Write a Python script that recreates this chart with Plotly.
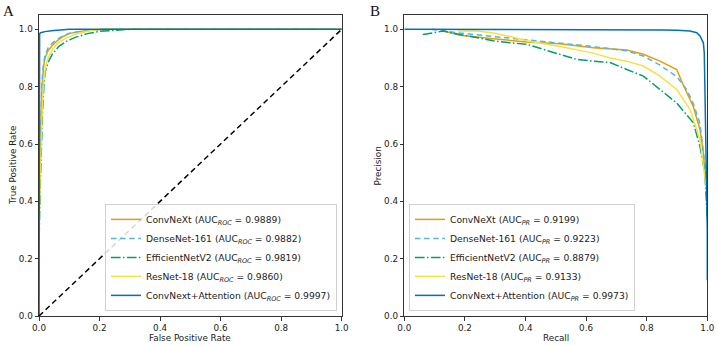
import plotly.graph_objects as go

# ---------------- data ----------------
model_names = ["ConvNeXt", "DenseNet-161", "EfficientNetV2", "ResNet-18", "ConvNext+Attention"]
auc_roc = ["0.9889", "0.9882", "0.9819", "0.9860", "0.9997"]
auc_pr = ["0.9199", "0.9223", "0.8879", "0.9133", "0.9973"]
colors = ["#E69F00", "#56B4E9", "#009E73", "#F0E442", "#0072B2"]
dashes = ["solid", "5.5px,3.6px", "9.6px,2.4px,1.5px,2.4px", "solid", "solid"]

# ROC curves (FPR, TPR)
roc_convnext_fpr = [0, 0, 0.003, 0.006, 0.01, 0.015, 0.02, 0.03, 0.045, 0.06, 0.08, 0.1, 0.13, 0.17, 0.22, 1.0]
roc_convnext_tpr = [0, 0.35, 0.55, 0.7, 0.8, 0.87, 0.9, 0.925, 0.945, 0.96, 0.975, 0.985, 0.992, 0.997, 1.0, 1.0]
roc_densenet_fpr = [0, 0, 0.003, 0.006, 0.01, 0.015, 0.02, 0.03, 0.045, 0.06, 0.08, 0.1, 0.14, 0.18, 0.24, 1.0]
roc_densenet_tpr = [0, 0.3, 0.52, 0.7, 0.82, 0.88, 0.91, 0.935, 0.953, 0.965, 0.978, 0.986, 0.993, 0.997, 1.0, 1.0]
roc_effnet_fpr = [0, 0, 0.004, 0.008, 0.012, 0.016, 0.02, 0.03, 0.045, 0.065, 0.09, 0.12, 0.16, 0.2, 0.26, 0.3, 1.0]
roc_effnet_tpr = [0, 0.25, 0.45, 0.6, 0.72, 0.8, 0.85, 0.885, 0.915, 0.94, 0.958, 0.972, 0.985, 0.993, 0.998, 1.0, 1.0]
roc_resnet_fpr = [0, 0, 0.004, 0.008, 0.012, 0.016, 0.022, 0.03, 0.045, 0.06, 0.09, 0.12, 0.16, 0.2, 1.0]
roc_resnet_tpr = [0, 0.3, 0.5, 0.65, 0.76, 0.83, 0.87, 0.9, 0.93, 0.95, 0.97, 0.983, 0.993, 1.0, 1.0]
roc_attn_fpr = [0, 0, 0.002, 0.005, 0.01, 0.02, 0.04, 0.07, 0.1, 1.0]
roc_attn_tpr = [0, 0.96, 0.985, 0.988, 0.99, 0.992, 0.995, 0.998, 1.0, 1.0]
chance_x = [0, 1]
chance_y = [0, 1]

# PR curves (Recall, Precision)
pr_convnext_rec = [0.129, 0.184, 0.294, 0.404, 0.514, 0.624, 0.734, 0.789, 0.844, 0.899, 0.921, 0.954, 0.976, 0.987, 0.995, 1.0]
pr_convnext_prec = [0.994, 0.979, 0.967, 0.956, 0.95, 0.936, 0.928, 0.913, 0.889, 0.86, 0.805, 0.73, 0.65, 0.569, 0.47, 0.44]
pr_densenet_rec = [0.09, 0.184, 0.294, 0.404, 0.514, 0.624, 0.734, 0.789, 0.844, 0.899, 0.932, 0.954, 0.976, 0.987, 0.995, 1.0]
pr_densenet_prec = [1.0, 0.987, 0.975, 0.964, 0.952, 0.94, 0.925, 0.907, 0.875, 0.835, 0.79, 0.74, 0.67, 0.58, 0.5, 0.45]
pr_effnet_rec = [0.061, 0.129, 0.184, 0.24, 0.294, 0.35, 0.404, 0.459, 0.514, 0.569, 0.624, 0.679, 0.734, 0.789, 0.844, 0.899, 0.954, 0.976, 0.992, 1.0]
pr_effnet_prec = [0.982, 0.994, 0.982, 0.97, 0.96, 0.953, 0.948, 0.93, 0.913, 0.895, 0.889, 0.884, 0.86, 0.837, 0.79, 0.743, 0.674, 0.59, 0.5, 0.335]
pr_resnet_rec = [0.178, 0.24, 0.294, 0.35, 0.404, 0.514, 0.624, 0.679, 0.734, 0.789, 0.844, 0.899, 0.943, 0.976, 0.99, 1.0]
pr_resnet_prec = [0.994, 0.994, 0.987, 0.975, 0.96, 0.94, 0.917, 0.9, 0.889, 0.872, 0.837, 0.79, 0.72, 0.615, 0.5, 0.42]
pr_attn_rec = [0.0, 0.78, 0.85, 0.9, 0.943, 0.965, 0.976, 0.987, 0.99, 0.992, 0.995, 1.0, 1.0]
pr_attn_prec = [1.0, 1.0, 0.998, 0.997, 0.994, 0.988, 0.977, 0.953, 0.918, 0.8, 0.6, 0.3, 0.125]

tick_vals = [0, 0.2, 0.4, 0.6, 0.8, 1.0]
tick_text = ["0.0", "0.2", "0.4", "0.6", "0.8", "1.0"]

roc_curves = [(roc_convnext_fpr, roc_convnext_tpr), (roc_densenet_fpr, roc_densenet_tpr),
              (roc_effnet_fpr, roc_effnet_tpr), (roc_resnet_fpr, roc_resnet_tpr),
              (roc_attn_fpr, roc_attn_tpr)]
pr_curves = [(pr_convnext_rec, pr_convnext_prec), (pr_densenet_rec, pr_densenet_prec),
             (pr_effnet_rec, pr_effnet_prec), (pr_resnet_rec, pr_resnet_prec),
             (pr_attn_rec, pr_attn_prec)]

# ---------------- figure ----------------
W, H = 718, 346
fig = go.Figure()

for i, (x, y) in enumerate(roc_curves):
    fig.add_trace(go.Scatter(
        x=x, y=y, mode="lines", xaxis="x", yaxis="y",
        line=dict(color=colors[i], width=1.5, dash=dashes[i]),
        name=f"{model_names[i]} (AUC<sub><i>ROC</i></sub> = {auc_roc[i]})",
        legend="legend",
    ))
fig.add_trace(go.Scatter(x=chance_x, y=chance_y, mode="lines", xaxis="x", yaxis="y",
                         line=dict(color="black", width=1.5, dash="5.5px,3.6px"),
                         showlegend=False))

for i, (x, y) in enumerate(pr_curves):
    fig.add_trace(go.Scatter(
        x=x, y=y, mode="lines", xaxis="x2", yaxis="y2",
        line=dict(color=colors[i], width=1.5, dash=dashes[i]),
        name=f"{model_names[i]} (AUC<sub><i>PR</i></sub> = {auc_pr[i]})",
        legend="legend2",
    ))

axis_common = dict(
    showgrid=False, zeroline=False, showline=True, mirror=True, automargin=False,
    linecolor="#333", linewidth=1,
    ticks="outside", ticklen=3.5, tickwidth=0.8, tickcolor="#333",
    tickvals=tick_vals, ticktext=tick_text,
    tickfont=dict(family="DejaVu Sans", size=8.8, color="#222"),
)

x1 = (39 / W, 341.7 / W)
x2 = (404.3 / W, 707.3 / W)

legend_common = dict(
    bgcolor="rgba(255,255,255,0.85)", bordercolor="#d0d0d0", borderwidth=1,
    font=dict(family="DejaVu Sans", size=9.2, color="#222"),
    yanchor="bottom", y=0.017, itemwidth=30, tracegroupgap=0,
)

fig.update_layout(
    template="none",
    width=W, height=H,
    margin=dict(l=0, r=0, t=15, b=30, autoexpand=False),
    paper_bgcolor="white", plot_bgcolor="white",
    xaxis=dict(domain=list(x1), range=[0, 1], anchor="y", **axis_common),
    yaxis=dict(domain=[0, 1], range=[0, 1.05], anchor="x", **axis_common),
    xaxis2=dict(domain=list(x2), range=[0, 1], anchor="y2", **axis_common),
    yaxis2=dict(domain=[0, 1], range=[0, 1.05], anchor="x2", **axis_common),
    legend=dict(xanchor="right", x=337 / W, **legend_common),
    legend2=dict(xanchor="left", x=409 / W, **legend_common),
    showlegend=True,
)

ann_font = dict(family="DejaVu Sans", size=8.8, color="#222")
annotations = [
    dict(text="False Positive Rate", x=(x1[0] + x1[1]) / 2, y=-(337.5 - 316) / 301, xref="paper", yref="paper",
         showarrow=False, font=ann_font, xanchor="center", yanchor="middle"),
    dict(text="Recall", x=(x2[0] + x2[1]) / 2, y=-(337.5 - 316) / 301, xref="paper", yref="paper",
         showarrow=False, font=ann_font, xanchor="center", yanchor="middle"),
    dict(text="True Positive Rate", x=12.5 / W, y=0.5, xref="paper", yref="paper",
         showarrow=False, font=ann_font, textangle=-90, xanchor="center", yanchor="middle"),
    dict(text="Precision", x=377 / W, y=0.5, xref="paper", yref="paper",
         showarrow=False, font=ann_font, textangle=-90, xanchor="center", yanchor="middle"),
    dict(text="A", x=8.5 / W, y=1 + (15 - 11.5) / 301, xref="paper", yref="paper",
         showarrow=False, font=dict(family="Liberation Serif", size=15, color="#111"),
         xanchor="center", yanchor="middle"),
    dict(text="B", x=375 / W, y=1 + (15 - 11) / 301, xref="paper", yref="paper",
         showarrow=False, font=dict(family="Liberation Serif", size=15, color="#111"),
         xanchor="center", yanchor="middle"),
]
fig.update_layout(annotations=annotations)

fig.write_html("out.html")
